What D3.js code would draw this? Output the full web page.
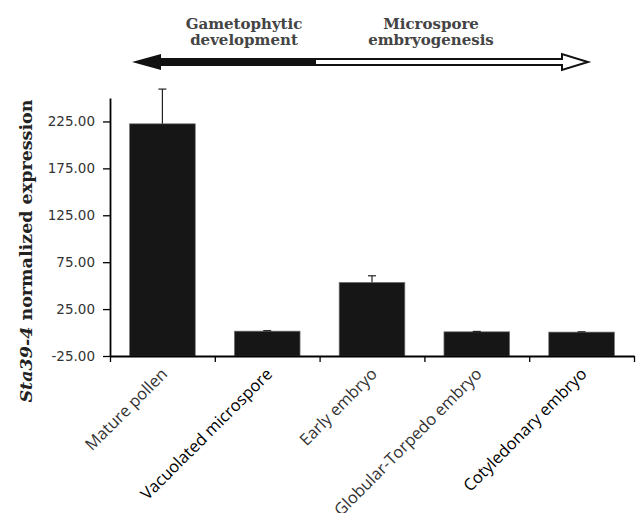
<!DOCTYPE html>
<html>
<head>
<meta charset="utf-8">
<script src="https://cdn.jsdelivr.net/npm/d3@7"></script>
<style>
  body { margin: 0; background: #fff; }
  svg { display: block; }
</style>
</head>
<body>
<svg width="636" height="513"></svg>
<script>
var categories = ["Mature pollen", "Vacuolated microspore", "Early embryo", "Globular-Torpedo embryo", "Cotyledonary embryo"];
var values = [222.5, 1.5, 53.5, 0.8, 0.5];
var errors = [37, 0.5, 7, 0.4, 0.3];
var yTicks = [-25, 25, 75, 125, 175, 225];

var svg = d3.select("svg");
var margin = { left: 110, right: 2, top: 98, bottom: 157 };
var width = 636, height = 513;
var x0 = margin.left, x1 = width - margin.right;
var yBase = height - margin.bottom;

var x = d3.scaleBand()
    .domain(categories)
    .range([x0, x1])
    .paddingInner(0.373)
    .paddingOuter(0.1865);

var y = d3.scaleLinear()
    .domain([-25, 250])
    .range([yBase, margin.top]);

// bars
svg.selectAll(".bar")
    .data(values)
    .enter().append("rect")
    .attr("class", "bar")
    .attr("x", function (d, i) { return x(categories[i]); })
    .attr("y", function (d) { return y(d); })
    .attr("width", x.bandwidth())
    .attr("height", function (d) { return y(-25) - y(d); })
    .style("fill", "#161616")
    .style("stroke", "#777")
    .style("stroke-width", 0.7);

// error bars (plus only)
var err = svg.selectAll(".err")
    .data(values)
    .enter().append("g")
    .attr("class", "err")
    .attr("transform", function (d, i) { return "translate(" + (x(categories[i]) + x.bandwidth() / 2) + ",0)"; });

err.append("line")
    .attr("x1", 0).attr("x2", 0)
    .attr("y1", function (d) { return y(d); })
    .attr("y2", function (d, i) { return y(d + errors[i]); })
    .style("stroke", "#222").style("stroke-width", 1.2);

err.append("line")
    .attr("x1", -4).attr("x2", 4)
    .attr("y1", function (d, i) { return y(d + errors[i]); })
    .attr("y2", function (d, i) { return y(d + errors[i]); })
    .style("stroke", "#222").style("stroke-width", 1.2);

// y axis
var fmt = function (d) { return d3.format(".2f")(d).replace("\u2212", "-"); };
var yAxis = svg.append("g")
    .attr("transform", "translate(" + x0 + ",0)")
    .call(d3.axisLeft(y).tickValues(yTicks).tickFormat(fmt).tickSize(7).tickSizeOuter(0));
yAxis.select(".domain").style("stroke", "#000").style("stroke-width", 1.8);
yAxis.selectAll(".tick line").style("stroke", "#000").style("stroke-width", 1.3);
yAxis.selectAll(".tick text")
    .attr("x", -15)
    .style("font-family", "DejaVu Sans")
    .style("font-size", "13.5px")
    .style("fill", "#333");

// x axis: ticks at category boundaries
var edge = d3.scaleLinear().domain([0, categories.length]).range([x0, x1]);
var xAxis = svg.append("g")
    .attr("transform", "translate(0," + yBase + ")")
    .call(d3.axisBottom(edge).tickValues(d3.range(categories.length + 1)).tickFormat("").tickSize(6).tickSizeOuter(0));
xAxis.select(".domain").style("stroke", "#000").style("stroke-width", 1.8);
xAxis.selectAll(".tick line").style("stroke", "#000").style("stroke-width", 1.3);

// category labels
svg.selectAll(".xlab")
    .data(categories)
    .enter().append("text")
    .attr("class", "xlab")
    .attr("transform", function (d) { return "translate(" + (x(d) + x.bandwidth() / 2 + 2) + "," + (yBase + 15) + ") rotate(-45)"; })
    .attr("text-anchor", "end")
    .attr("dy", "0.35em")
    .style("font-family", "'Open Sans'")
    .style("font-size", "16.5px")
    .style("fill", function (d, i) { return (i === 1 || i === 4) ? "#000" : "#333"; })
    .text(function (d) { return d; });

// y label
var yl = svg.append("text")
    .attr("transform", "translate(32,251) rotate(-90)")
    .attr("text-anchor", "middle")
    .style("font-family", "DejaVu Serif")
    .style("font-weight", "bold")
    .style("font-size", "17.5px")
    .style("fill", "#222");
yl.append("tspan").style("font-style", "italic").text("Sta39-4");
yl.append("tspan").text(" normalized expression");

// stage arrow
var arrowY = 62, split = 316, leftTip = 132, rightTip = 588;
svg.append("path")
    .attr("d", "M" + leftTip + "," + arrowY + "L161," + (arrowY - 8) + "L161," + (arrowY - 4) +
        "L" + split + "," + (arrowY - 4) + "L" + split + "," + (arrowY + 4) + "L161," + (arrowY + 4) +
        "L161," + (arrowY + 8) + "Z")
    .style("fill", "#111");
svg.append("path")
    .attr("d", "M" + split + "," + (arrowY - 3) + "L562," + (arrowY - 3) + "L562," + (arrowY - 8) +
        "L" + rightTip + "," + arrowY + "L562," + (arrowY + 8) + "L562," + (arrowY + 3) +
        "L" + split + "," + (arrowY + 3))
    .style("fill", "#fff")
    .style("stroke", "#111")
    .style("stroke-width", 2);

var stageLines = [["Gametophytic", "development"], ["Microspore", "embryogenesis"]];
var stageX = [244, 431];
stageLines.forEach(function (lines, k) {
    var t = svg.append("text")
        .attr("text-anchor", "middle")
        .style("font-family", "DejaVu Serif")
        .style("font-weight", "bold")
        .style("font-size", "15px")
        .style("fill", "#444");
    lines.forEach(function (l, i) {
        t.append("tspan")
            .attr("x", stageX[k])
            .attr("y", 28.5 + i * 16.5)
            .text(l);
    });
});
</script>
</body>
</html>
